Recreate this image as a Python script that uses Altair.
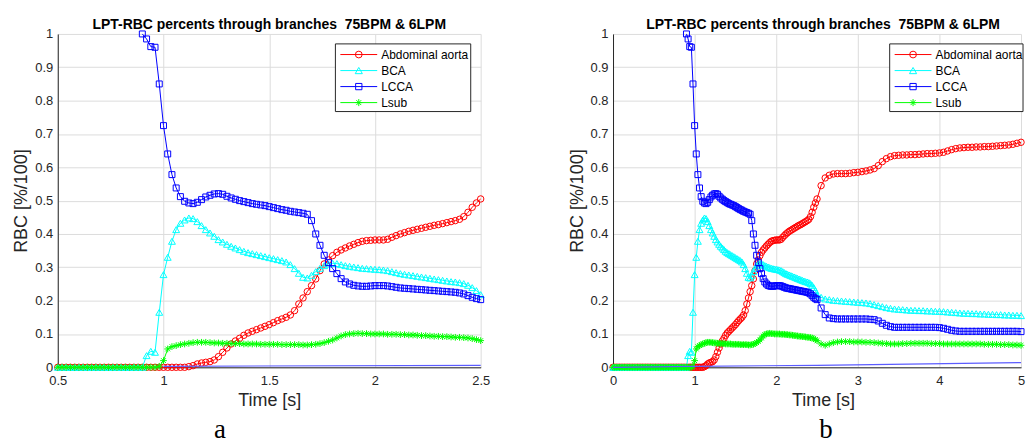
import altair as alt
import pandas as pd

# ---------------- data ----------------
SERIES = ["Abdominal aorta", "BCA", "LCCA", "Lsub"]
COLORS = ["#ff0000", "#00ffff", "#0000ff", "#00ff00"]
ASTERISK = "M0,-1L0,1M-1,0L1,0M-0.7,-0.7L0.7,0.7M-0.7,0.7L0.7,-0.7"
SHAPES = ["circle", "triangle-up", "square", ASTERISK]
SIZES = [42, 48, 36, 46]

# sampling instants: 0.00..2.50 every 0.02 s, then 2.55..5.00 every 0.05 s
TIME = [round(0.02 * i, 2) for i in range(126)] + [round(2.55 + 0.05 * i, 2) for i in range(50)]

PRE_ZERO = [0.0] * 45      # 0.00 .. 0.88 s : all branches at 0
PRE_NONE = [None] * 45     # LCCA not defined before 0.90 s

# 0.90 .. 2.50 s (step 0.02)
AORTA_1 = [0, 0, 0, 0, 0, 0, 0, 0, 0, 0,
           0.0, 0.002, 0.005, 0.01, 0.013, 0.015, 0.017, 0.022, 0.032, 0.045,
           0.058, 0.07, 0.079, 0.087, 0.096, 0.103, 0.108, 0.113, 0.118, 0.123,
           0.128, 0.134, 0.14, 0.145, 0.15, 0.157, 0.17, 0.19, 0.208, 0.227,
           0.245, 0.265, 0.29, 0.31, 0.322, 0.335, 0.345, 0.352, 0.358, 0.364,
           0.369, 0.374, 0.378, 0.38, 0.381, 0.382, 0.382, 0.382, 0.384, 0.39,
           0.395, 0.4, 0.404, 0.408, 0.411, 0.414, 0.417, 0.42, 0.423, 0.426,
           0.428, 0.431, 0.434, 0.437, 0.44, 0.444, 0.452, 0.465, 0.48, 0.493,
           0.505]
BCA_1 = [0.0, 0.035, 0.048, 0.045, 0.165, 0.278, 0.33, 0.378, 0.413, 0.432,
         0.442, 0.448, 0.446, 0.437, 0.425, 0.413, 0.403, 0.393, 0.383, 0.376,
         0.369, 0.363, 0.358, 0.353, 0.348, 0.344, 0.341, 0.338, 0.335, 0.332,
         0.329, 0.326, 0.323, 0.32, 0.316, 0.308, 0.296, 0.282, 0.27, 0.268,
         0.276, 0.287, 0.297, 0.305, 0.31, 0.312, 0.311, 0.308, 0.305, 0.303,
         0.301, 0.299, 0.297, 0.296, 0.295, 0.294, 0.293, 0.292, 0.29, 0.287,
         0.284, 0.281, 0.279, 0.277, 0.275, 0.273, 0.271, 0.269, 0.267, 0.265,
         0.263, 0.261, 0.259, 0.257, 0.256, 0.254, 0.251, 0.246, 0.239, 0.23,
         0.218]
LCCA_1 = [1.0, 0.985, 0.962, 0.96, 0.85, 0.725, 0.64, 0.578, 0.538, 0.512,
          0.498, 0.493, 0.491, 0.495, 0.503, 0.511, 0.516, 0.52, 0.521, 0.519,
          0.513, 0.508, 0.504, 0.5, 0.497, 0.494, 0.491, 0.489, 0.487, 0.485,
          0.482, 0.479, 0.476, 0.473, 0.471, 0.468, 0.466, 0.464, 0.462, 0.459,
          0.44, 0.4, 0.366, 0.336, 0.314, 0.296, 0.281, 0.266, 0.256, 0.25,
          0.246, 0.244, 0.243, 0.243, 0.244, 0.245, 0.245, 0.245, 0.244, 0.242,
          0.24, 0.238, 0.237, 0.236, 0.235, 0.234, 0.233, 0.232, 0.231, 0.23,
          0.229, 0.228, 0.227, 0.226, 0.225, 0.223, 0.22, 0.215, 0.21, 0.206,
          0.203]
LSUB_1 = [0, 0, 0, 0, 0.003, 0.02, 0.055, 0.062, 0.065, 0.068,
          0.07, 0.072, 0.074, 0.075, 0.075, 0.075, 0.074, 0.073, 0.073, 0.072,
          0.072, 0.071, 0.071, 0.071, 0.07, 0.07, 0.07, 0.07, 0.069, 0.069,
          0.069, 0.069, 0.069, 0.068, 0.068, 0.068, 0.068, 0.068, 0.067, 0.067,
          0.068, 0.069, 0.071, 0.074, 0.078, 0.082, 0.088, 0.094, 0.098, 0.1,
          0.101, 0.102, 0.101, 0.101, 0.1, 0.1, 0.1, 0.1, 0.099, 0.099,
          0.099, 0.098, 0.098, 0.097, 0.097, 0.096, 0.095, 0.095, 0.094, 0.093,
          0.093, 0.092, 0.092, 0.091, 0.09, 0.09, 0.089, 0.088, 0.086, 0.083,
          0.08]

# 2.55 .. 5.00 s (step 0.05)
AORTA_2 = [0.545, 0.568, 0.576, 0.58, 0.581, 0.581, 0.581, 0.582, 0.584, 0.585,
           0.587, 0.589, 0.592, 0.596, 0.605, 0.617, 0.626, 0.632, 0.635, 0.636,
           0.637, 0.637, 0.638, 0.638, 0.639, 0.64, 0.641, 0.641, 0.642, 0.643,
           0.645, 0.649, 0.653, 0.656, 0.658, 0.659, 0.66, 0.66, 0.661, 0.661,
           0.662, 0.662, 0.663, 0.664, 0.665, 0.666, 0.667, 0.669, 0.672, 0.675]
BCA_2 = [0.21, 0.205, 0.203, 0.201, 0.2, 0.199, 0.198, 0.197, 0.196, 0.195,
         0.194, 0.193, 0.191, 0.188, 0.185, 0.182, 0.179, 0.177, 0.175, 0.174,
         0.173, 0.172, 0.171, 0.171, 0.17, 0.17, 0.169, 0.169, 0.168, 0.168,
         0.167, 0.166, 0.165, 0.164, 0.163, 0.162, 0.162, 0.161, 0.161, 0.16,
         0.16, 0.159, 0.159, 0.158, 0.158, 0.157, 0.157, 0.156, 0.156, 0.155]
LCCA_2 = [0.178, 0.158, 0.148, 0.146, 0.145, 0.145, 0.145, 0.145, 0.145, 0.145,
          0.145, 0.145, 0.144, 0.143, 0.139, 0.132, 0.126, 0.122, 0.12, 0.12,
          0.12, 0.12, 0.12, 0.12, 0.12, 0.12, 0.12, 0.12, 0.12, 0.119,
          0.117, 0.114, 0.111, 0.109, 0.108, 0.108, 0.108, 0.108, 0.108, 0.108,
          0.108, 0.108, 0.108, 0.108, 0.108, 0.108, 0.108, 0.108, 0.108, 0.107]
LSUB_2 = [0.07, 0.066, 0.07, 0.074, 0.076, 0.077, 0.077, 0.077, 0.076, 0.076,
          0.076, 0.075, 0.075, 0.074, 0.073, 0.072, 0.071, 0.07, 0.07, 0.07,
          0.071, 0.071, 0.072, 0.072, 0.072, 0.072, 0.072, 0.071, 0.071, 0.071,
          0.07, 0.07, 0.07, 0.07, 0.07, 0.07, 0.07, 0.07, 0.07, 0.07,
          0.069, 0.069, 0.069, 0.069, 0.068, 0.068, 0.068, 0.067, 0.067, 0.066]

# faint unlabeled blue trace along the bottom
EXTRA_T = [0.0, 1.0, 2.5, 5.0]
EXTRA_V = [0.0, 0.003, 0.006, 0.014]

VALUES = {
    "Abdominal aorta": PRE_ZERO + AORTA_1 + AORTA_2,
    "BCA": PRE_ZERO + BCA_1 + BCA_2,
    "LCCA": PRE_NONE + LCCA_1 + LCCA_2,
    "Lsub": PRE_ZERO + LSUB_1 + LSUB_2,
}

TITLE = "LPT-RBC percents through branches \u00a075BPM & 6LPM"
YTICKS = [0, 0.1, 0.2, 0.3, 0.4, 0.5, 0.6, 0.7, 0.8, 0.9, 1]
XTICKS_A = [0.5, 1, 1.5, 2, 2.5]
XTICKS_B = [0, 1, 2, 3, 4, 5]

# ---------------- tables ----------------
rows = []
for s in SERIES:
    for t, v in zip(TIME, VALUES[s]):
        if v is not None:
            rows.append({"t": t, "v": v, "s": s})
df = pd.DataFrame(rows)
extra_df = pd.DataFrame({"t": EXTRA_T, "v": EXTRA_V})

FONT = "Liberation Sans"


def one_row(label):
    return pd.DataFrame({"label": [label]})


def make_panel(xmin, xmax, xticks, width, height, cap, cap_x, leg_x0, leg_w, shift):
    xs = alt.Scale(domain=[xmin, xmax], nice=False, zero=False)
    ys = alt.Scale(domain=[0, 1], nice=False, zero=False)
    xax = alt.Axis(values=xticks, format="~g", title="Time [s]", grid=True, ticks=False,
                   labelPadding=7, titlePadding=4, labelFlush=False, titleX=width / 2 + shift)
    yax = alt.Axis(values=YTICKS, format="~g", title="RBC [%/100]", grid=True, ticks=False,
                   labelPadding=5, titlePadding=4, labelFlush=False)
    X = alt.X("t:Q", scale=xs, axis=xax)
    Y = alt.Y("v:Q", scale=ys, axis=yax)
    rng = (alt.datum.t >= xmin - 1e-9) & (alt.datum.t <= xmax + 1e-9)
    base = alt.Chart(df).transform_filter(rng)
    layers = []
    for name, col, shp, sz in zip(SERIES, COLORS, SHAPES, SIZES):
        b = base.transform_filter(alt.datum.s == name)
        layers.append(b.mark_line(color=col, strokeWidth=1, clip=False).encode(x=X, y=Y))
        layers.append(b.mark_point(shape=shp, color=col, filled=False, size=sz,
                                   strokeWidth=1, opacity=1, clip=False).encode(x=X, y=Y))
    layers.append(alt.Chart(extra_df).transform_filter(rng)
                  .mark_line(color="#5c5cff", strokeWidth=1.2).encode(x=X, y=Y))

    # legend box (MATLAB style: line + marker + label)
    layers.append(alt.Chart(one_row("box")).mark_rect(fill="white", stroke="#262626", strokeWidth=1)
                  .encode(x=alt.value(leg_x0), x2=alt.value(leg_x0 + leg_w),
                          y=alt.value(10), y2=alt.value(78)))
    for i, (name, col, shp, sz) in enumerate(zip(SERIES, COLORS, SHAPES, SIZES)):
        yi = 20.7 + 16.1 * i
        d = one_row(name)
        layers.append(alt.Chart(d).mark_rule(color=col, strokeWidth=1)
                      .encode(x=alt.value(leg_x0 + 5), x2=alt.value(leg_x0 + 42), y=alt.value(yi)))
        layers.append(alt.Chart(d).mark_point(shape=shp, color=col, filled=False, size=sz + 4,
                                              strokeWidth=1, opacity=1)
                      .encode(x=alt.value(leg_x0 + 23.5), y=alt.value(yi)))
        layers.append(alt.Chart(d).mark_text(align="left", baseline="middle", font=FONT,
                                             fontSize=12, color="#000000")
                      .encode(x=alt.value(leg_x0 + 46), y=alt.value(yi), text="label:N"))
    # caption letter
    layers.append(alt.Chart(one_row(cap)).mark_text(font="Liberation Serif", fontSize=27,
                                                    align="center", baseline="alphabetic",
                                                    color="#000000")
                  .encode(x=alt.value(cap_x), y=alt.value(height + 71), text="label:N"))
    return alt.layer(*layers).properties(
        width=width, height=height,
        title=alt.TitleParams(TITLE, font=FONT, fontSize=14, fontWeight="bold", color="#000000",
                              anchor="middle", offset=-4, dx=shift),
    )


pa = make_panel(0.5, 2.5, XTICKS_A, 425, 335, "a", 163, 279, 136, 0)
pb = make_panel(0.0, 5.0, XTICKS_B, 410, 335, "b", 214, 278, 134, 6)

chart = (
    alt.hconcat(pa, pb, spacing=77)
    .properties(padding={"left": 4, "top": 9, "right": 0, "bottom": 0})
    .configure_view(stroke=None)
    .configure_axis(labelFont=FONT, labelFontSize=13, labelColor="#262626",
                    titleFont=FONT, titleFontSize=18, titleFontWeight="normal", titleColor="#262626",
                    domainColor="#262626", domainWidth=1, gridColor="#dcdcdc", gridWidth=1)
)

chart.save("out.html", embed_options={"renderer": "svg", "actions": False})
